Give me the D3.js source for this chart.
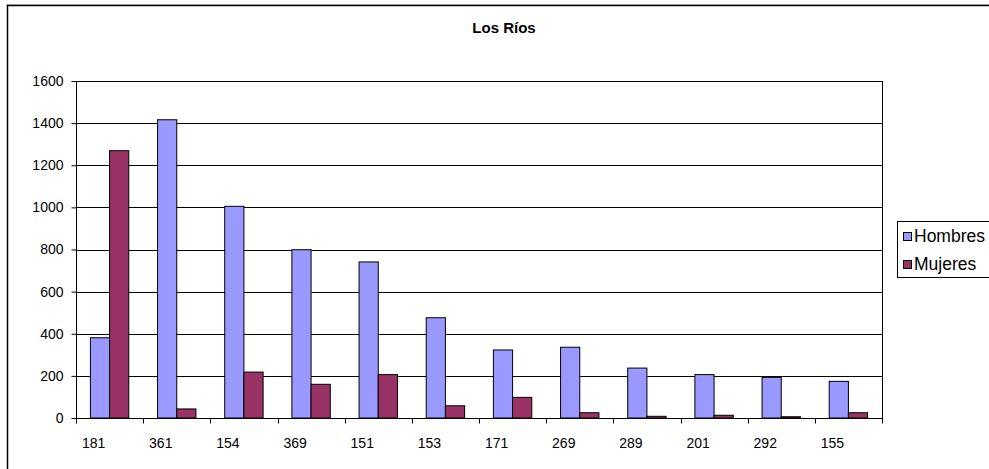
<!DOCTYPE html>
<html><head><meta charset="utf-8">
<script src="https://cdn.jsdelivr.net/npm/d3@7"></script>
<style>body{margin:0;background:#fff}svg{display:block}text{font-family:Arial,"Liberation Sans",sans-serif}</style>
</head><body><svg id="c" width="989" height="469"></svg>
<script>
const title = "Los Ríos";
const categories = ["181","361","154","369","151","153","171","269","289","201","292","155"];
const seriesNames = ["Hombres","Mujeres"];
const hombres = [381,1416,1005,799,741,476,323,336,237,206,193,174];
const mujeres = [1269,43,218,160,206,58,98,25,8,13,6,25];
const yTicks = [0,200,400,600,800,1000,1200,1400,1600];
const colors = ["#9999FF","#993366"];

const svg = d3.select("#c");
const L = 76, R = 882, T = 81, B = 418;

// outer frame
svg.append("line").attr("x1",6).attr("x2",989).attr("y1",4.5).attr("y2",4.5).attr("stroke","#ccc").attr("stroke-width",1);
svg.append("rect").attr("x",7.5).attr("y",5.5).attr("width",1000).attr("height",500)
  .attr("fill","none").attr("stroke","#000").attr("stroke-width",1.5);

svg.append("text").attr("x",504).attr("y",33).attr("text-anchor","middle")
  .attr("font-size",15).attr("font-weight","bold").text(title);

const x = d3.scaleBand().domain(categories).range([L,R]).paddingInner(0).paddingOuter(0);
const y = d3.scaleLinear().domain([0,1600]).range([B,T]);
const bw = x.bandwidth()/3.5;

// gridlines
svg.append("g").selectAll("line").data(yTicks.filter(d=>d>0)).join("line")
  .attr("x1",L).attr("x2",R).attr("y1",d=>Math.round(y(d))+0.5).attr("y2",d=>Math.round(y(d))+0.5)
  .attr("stroke","#000").attr("stroke-width",1);
// right border
svg.append("line").attr("x1",R+0.5).attr("x2",R+0.5).attr("y1",T).attr("y2",B).attr("stroke","#000");

// bars
const data = categories.map((c,i)=>({c, v:[hombres[i],mujeres[i]]}));
const g = svg.append("g");
data.forEach(d=>{
  d.v.forEach((v,j)=>{
    const x0 = x(d.c) + bw*0.75 + j*bw;
    g.append("rect").attr("x",x0).attr("y",y(v)).attr("width",bw).attr("height",B-y(v))
      .attr("fill",colors[j]).attr("stroke","#000").attr("stroke-width",1);
  });
});

// y axis
const ya = svg.append("g").attr("transform",`translate(${L+0.5},0)`)
  .call(d3.axisLeft(y).tickValues(yTicks).tickSize(5).tickPadding(8).tickFormat(d3.format("d")));
ya.select(".domain").attr("stroke","#000").attr("d",`M-0,${T}V${B}`);
ya.selectAll(".tick line").attr("stroke","#000");
ya.selectAll("text").attr("font-size",14).attr("fill","#000").attr("font-family","Arial,'Liberation Sans',sans-serif");

// x axis
const xa = svg.append("g").attr("transform",`translate(0,${B+0.5})`);
xa.append("line").attr("x1",L).attr("x2",R+1).attr("stroke","#000");
const bounds = categories.map(c=>x(c)).concat([R]);
xa.selectAll("line.t").data(bounds).join("line").attr("class","t")
  .attr("x1",d=>Math.round(d)+0.5).attr("x2",d=>Math.round(d)+0.5).attr("y1",0).attr("y2",5).attr("stroke","#000");
xa.selectAll("text").data(categories).join("text")
  .attr("x",d=>x(d)+x.bandwidth()/2 - 16).attr("y",29).attr("text-anchor","middle")
  .attr("font-size",14).text(d=>d);

// legend
const lg = svg.append("g");
lg.append("rect").attr("x",897.5).attr("y",221.5).attr("width",120).attr("height",56)
  .attr("fill","#fff").attr("stroke","#000");
seriesNames.forEach((s,i)=>{
  lg.append("rect").attr("x",903.5).attr("y",232.5+i*28).attr("width",8).attr("height",8)
    .attr("fill",colors[i]).attr("stroke","#000");
  lg.append("text").attr("x",914).attr("y",242+i*28).attr("font-size",17.5).text(s);
});
</script></body></html>
